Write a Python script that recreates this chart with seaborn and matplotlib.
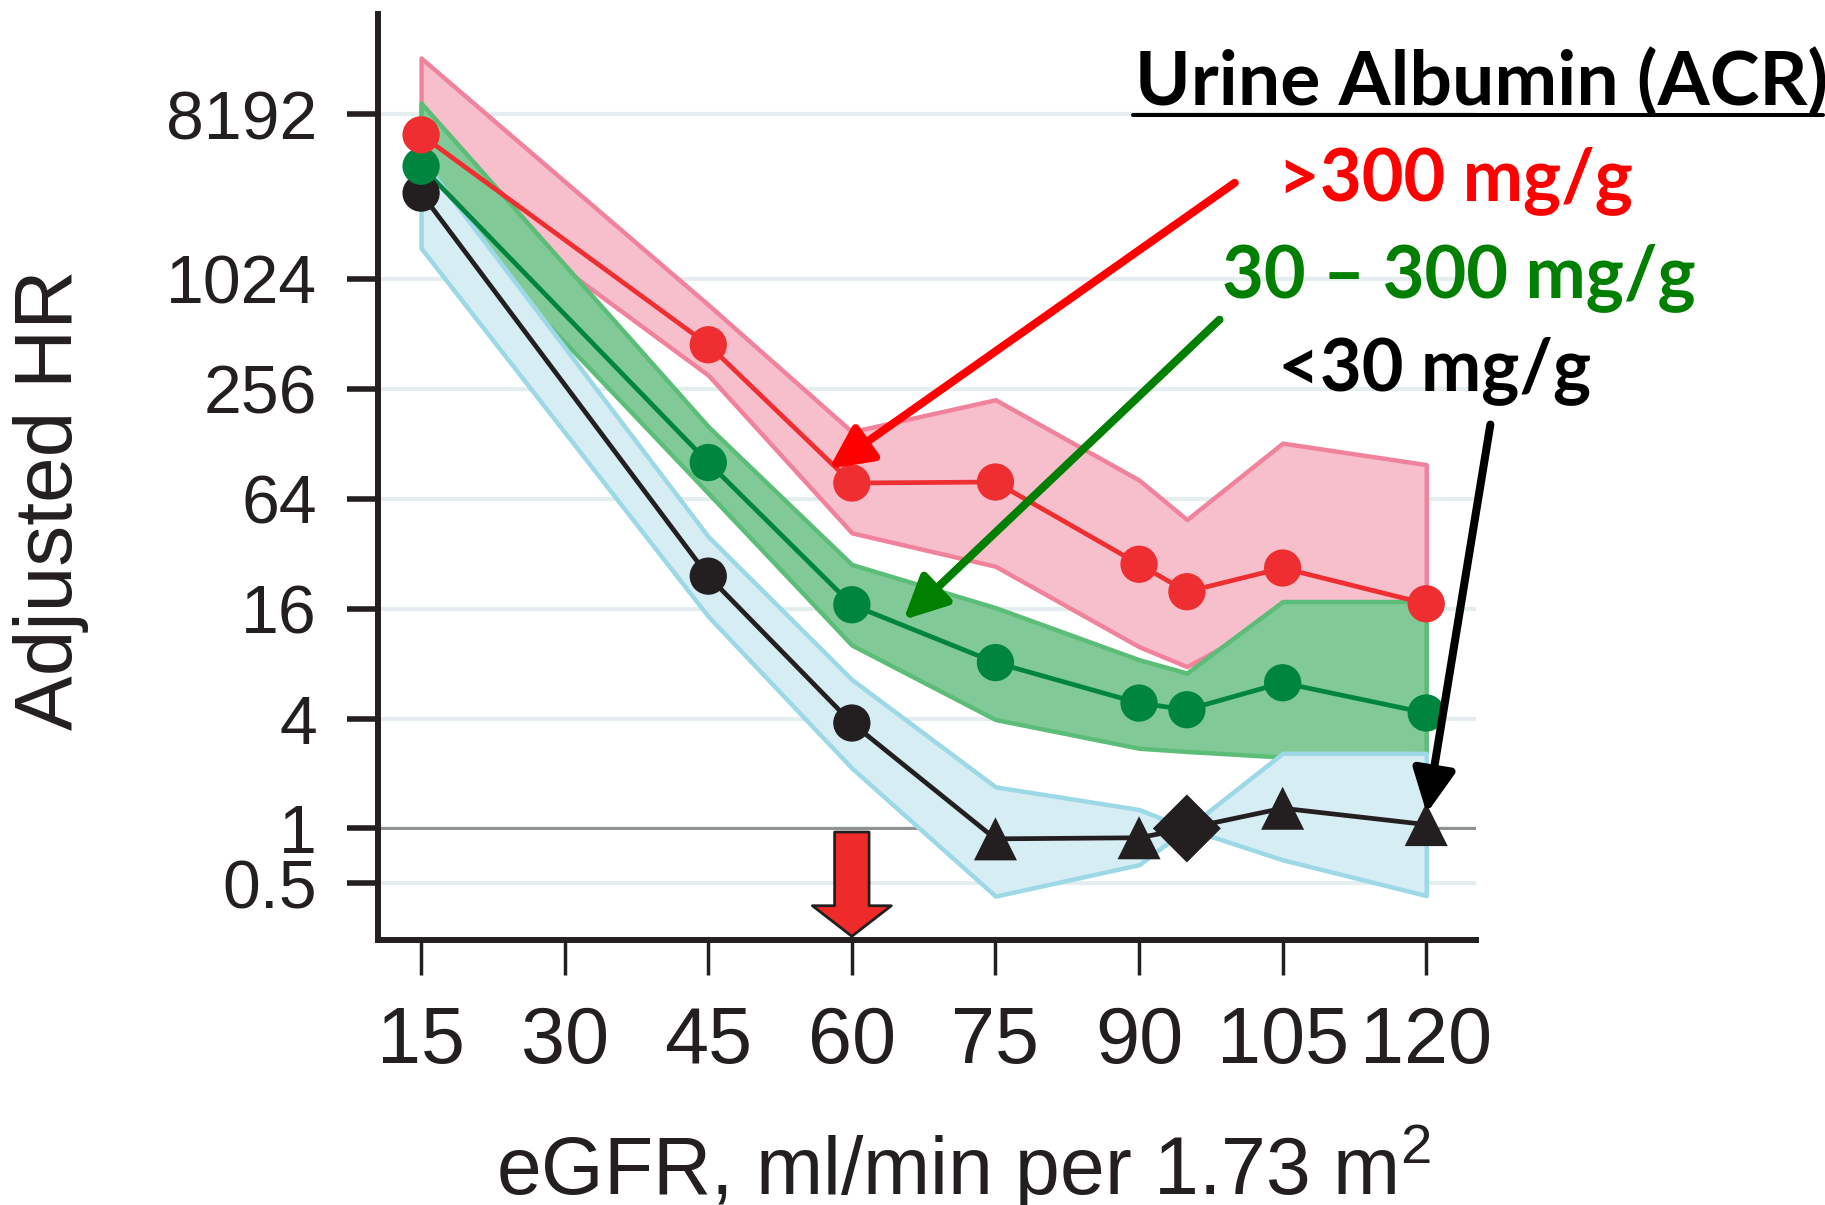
import numpy as np
import pandas as pd
import matplotlib
matplotlib.use("Agg")
import matplotlib.pyplot as plt
import seaborn as sns
from matplotlib.lines import Line2D

# ---------------- data ----------------
egfr = [15, 45, 60, 75, 90, 95, 105, 120]
groups = ["<30 mg/g", "30 – 300 mg/g", ">300 mg/g"]

hr_high = [6300, 446, 78, 79, 28, 19.8, 26.7, 17.0]
hr_high_lo = [4390, 304, 41.6, 27.3, 9.9, 7.7, 14.9, 14.9]
hr_high_hi = [16600, 739, 149, 223, 81, 49.2, 129, 98.4]

hr_mid = [4240, 101, 16.8, 8.1, 4.86, 4.47, 6.28, 4.29]
hr_mid_lo = [3100, 68.6, 10.1, 3.95, 2.75, 2.64, 2.46, 2.58]
hr_mid_hi = [9410, 159, 27.9, 16.2, 8.4, 7.1, 17.5, 17.5]

hr_low = [3020, 24.1, 3.78, 0.877, 0.889, 1.0, 1.29, 1.05]
hr_low_lo = [1510, 14.5, 2.14, 0.426, 0.633, 1.0, 0.673, 0.429]
hr_low_hi = [4700, 39.7, 6.54, 1.69, 1.27, 1.0, 2.58, 2.58]

low_markers = ["circle", "circle", "circle", "triangle", "triangle", "diamond", "triangle", "triangle"]

y_ticks = [0.5, 1, 4, 16, 64, 256, 1024, 8192]
y_ticklabels = ["0.5", "1", "4", "16", "64", "256", "1024", "8192"]
x_ticks = [15, 30, 45, 60, 75, 90, 105, 120]

# ---------------- styling ----------------
line_pal = {"<30 mg/g": "#231f20", "30 – 300 mg/g": "#00853f", ">300 mg/g": "#ee2e31"}
band_fill = {"<30 mg/g": "#d6edf3", "30 – 300 mg/g": "#82c998", ">300 mg/g": "#f7bfcc"}
band_edge = {"<30 mg/g": "#9dd8e6", "30 – 300 mg/g": "#5bbd78", ">300 mg/g": "#f1829c"}
text_col = {"<30 mg/g": "#000000", "30 – 300 mg/g": "#007f00", ">300 mg/g": "#ff0000"}

sns.set_theme(style="white")
plt.rcParams["font.family"] = ["Liberation Sans", "DejaVu Sans"]
plt.rcParams["mathtext.fontset"] = "custom"
plt.rcParams["mathtext.rm"] = "Liberation Sans"
plt.rcParams["mathtext.it"] = "Liberation Sans:italic"
plt.rcParams["mathtext.bf"] = "Liberation Sans:bold"

# ---------------- table ----------------
frames = []
for g, hr, lo, hi, mk in [
    (groups[0], hr_low, hr_low_lo, hr_low_hi, low_markers),
    (groups[1], hr_mid, hr_mid_lo, hr_mid_hi, ["circle"] * len(egfr)),
    (groups[2], hr_high, hr_high_lo, hr_high_hi, ["circle"] * len(egfr)),
]:
    frames.append(pd.DataFrame({"eGFR": egfr, "HR": hr, "lo": lo, "hi": hi,
                                "ACR": g, "marker": mk}))
df = pd.concat(frames, ignore_index=True)

W, H = 1825, 1205
fig = plt.figure(figsize=(W / 100, H / 100), dpi=100)
ax = fig.add_axes([378 / W, 1 - 940 / H, (1476 - 378) / W, (940 - 14) / H])
ax.set_yscale("log", base=2)

# confidence bands
for g, z in [(groups[2], 1.0), (groups[1], 1.1), (groups[0], 1.2)]:
    d = df[df["ACR"] == g]
    ax.fill_between(d["eGFR"], d["lo"], d["hi"], facecolor=band_fill[g],
                    edgecolor=band_edge[g], linewidth=3.2, zorder=z)

# lines
sns.lineplot(data=df, x="eGFR", y="HR", hue="ACR", hue_order=groups,
             palette=line_pal, linewidth=3.4, legend=False, estimator=None,
             sort=False, ax=ax, zorder=4)

# markers
sns.scatterplot(data=df, x="eGFR", y="HR", hue="ACR", hue_order=groups,
                palette=line_pal, style="marker",
                markers={"circle": "o", "triangle": "^", "diamond": "D"},
                size="marker", sizes={"circle": 720, "triangle": 960, "diamond": 1200},
                linewidth=0, legend=False, ax=ax, zorder=5)

# reference line at HR = 1
ax.axhline(1, color="#8c8c8c", lw=2, zorder=0.8)

ax.set_xlim(10.5, 125.2)
ax.set_ylim(2 ** -2.03, 2 ** 14.82)
ax.set_yticks(y_ticks)
ax.set_yticklabels(y_ticklabels)
ax.yaxis.set_minor_locator(matplotlib.ticker.NullLocator())
ax.set_xticks(x_ticks)
ax.set_xticklabels([str(v) for v in x_ticks])

ax.set_axisbelow(True)
ax.grid(axis="y", color="#e4eeee", lw=3)
ax.grid(axis="x", visible=False)

for s in ["top", "right"]:
    ax.spines[s].set_visible(False)
for s in ["left", "bottom"]:
    ax.spines[s].set_linewidth(4.3)
    ax.spines[s].set_color("#231f20")

ax.tick_params(axis="y", which="major", length=22, width=4, direction="out",
               pad=22, labelsize=49, colors="#231f20", left=True)
ax.tick_params(axis="x", which="major", length=25, width=2.5, direction="out",
               pad=22, labelsize=57, colors="#231f20", bottom=True)

ax.set_xlabel(r"eGFR, ml/min per 1.73 m$^{\mathrm{2}}$", fontsize=58, color="#231f20")
ax.xaxis.label.set_va("baseline")
ax.xaxis.set_label_coords(0.533, -0.2745)
ax.set_ylabel("Adjusted HR", fontsize=59, color="#231f20")
ax.yaxis.label.set_va("center")
ax.yaxis.set_label_coords(-0.298, 0.475)

# red block arrow at eGFR 60
ax.annotate("", xy=(60, 0.004), xycoords=("data", "axes fraction"),
            xytext=(60, 0.1166), textcoords=("data", "axes fraction"),
            arrowprops=dict(arrowstyle="simple,head_length=0.55,head_width=1.42,tail_width=0.62",
                            mutation_scale=40, fc="#ee2a2a", ec="#231f20", lw=2,
                            shrinkA=0, shrinkB=0), zorder=6)

# legend-like labels
fig.text(1135 / W, 1 - 105 / H, "Urine Albumin (ACR)", color="black", va="baseline",
         ha="left", family=["Lato", "DejaVu Sans"], weight="bold", fontsize=54)
fig.add_artist(Line2D([1133 / W, 1823 / W], [1 - 115 / H, 1 - 115 / H],
                      transform=fig.transFigure, color="black", lw=2.9))
lab_font = dict(family=["Lato", "DejaVu Sans"], weight="bold", fontsize=52)
fig.text(1278 / W, 1 - 200 / H, groups[2], color=text_col[groups[2]], va="baseline",
         ha="left", **lab_font)
fig.text(1222 / W, 1 - 297 / H, groups[1], color=text_col[groups[1]], va="baseline",
         ha="left", **lab_font)
fig.text(1278 / W, 1 - 390 / H, groups[0], color=text_col[groups[0]], va="baseline",
         ha="left", **lab_font)

# pointer arrows
arrow_kw = dict(arrowstyle="-|>,head_length=0.65,head_width=0.32", mutation_scale=40,
                lw=5.8, shrinkA=0, shrinkB=0)
ax.annotate("", xy=(57.6, 93.4), xytext=(100.0, 3440), xycoords="data",
            arrowprops=dict(color="#ff0000", **arrow_kw), zorder=7, annotation_clip=False)
ax.annotate("", xy=(65.4, 13.9), xytext=(98.4, 612), xycoords="data",
            arrowprops=dict(color="#007f00", **arrow_kw), zorder=7, annotation_clip=False)
ax.annotate("", xy=(120.05, 1.21), xytext=(126.7, 163), xycoords="data",
            arrowprops=dict(color="#000000", **arrow_kw), zorder=7, annotation_clip=False)

fig.savefig("out.png", dpi=100)
